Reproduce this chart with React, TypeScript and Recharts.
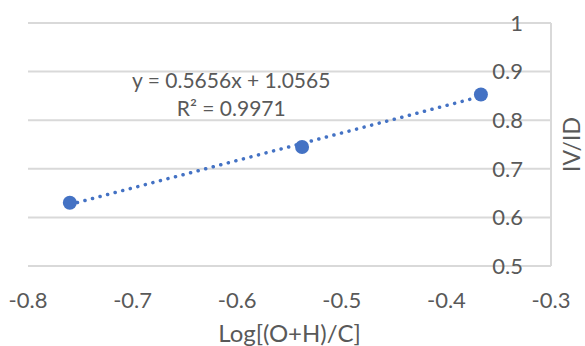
// Scatter of IV/ID against Log[(O+H)/C] with linear trendline
import {
  ScatterChart,
  Scatter,
  XAxis,
  YAxis,
  CartesianGrid,
  ReferenceDot,
} from "recharts";

const logOHC = [-0.76, -0.538, -0.367];
const ivId = [0.63, 0.745, 0.853];

const xTicks = [-0.8, -0.7, -0.6, -0.5, -0.4, -0.3];
const yTicks = [0.5, 0.6, 0.7, 0.8, 0.9, 1];

// trendline as printed on the chart
const trendSlope = 0.5656;
const trendIntercept = 1.0565;
const trendR2 = 0.9971;

const points = logOHC.map((x, i) => ({ x, y: ivId[i] }));
const xMin = Math.min(...logOHC);
const xMax = Math.max(...logOHC);
const trend = [xMin, xMax].map((x) => ({ x, y: trendSlope * x + trendIntercept }));

const FONT = "Lato, 'Open Sans', sans-serif";
const TEXT = "#595959";
const BLUE = "#4472C4";

const fmt = (v: number) => (v === 1 ? "1" : String(v));

function EquationLabel(props: any) {
  const { cx, cy } = props;
  return (
    <g>
      <text x={cx} y={cy} textAnchor="middle" dominantBaseline="central" fill={TEXT} fontSize={21} fontFamily={FONT}>
        {`y = ${trendSlope}x + ${trendIntercept}`}
      </text>
      <text x={cx} y={cy + 28} textAnchor="middle" dominantBaseline="central" fill={TEXT} fontSize={21} fontFamily={FONT}>
        {`R² = ${trendR2}`}
      </text>
    </g>
  );
}

export default function App() {
  return (
    <div style={{ position: "absolute", left: 0, top: 0, width: 585, height: 346, background: "#fff" }}>
      <ScatterChart width={585} height={346} margin={{ top: 23, right: 34, bottom: 0, left: 28 }}>
        <CartesianGrid vertical={false} stroke="#d9d9d9" strokeWidth={2} />
        <XAxis
          type="number"
          dataKey="x"
          domain={[-0.8, -0.3]}
          ticks={xTicks}
          axisLine={false}
          tickLine={false}
          tickMargin={20}
          height={80}
          tick={{ fill: TEXT, fontSize: 22, fontFamily: FONT }}
          tickFormatter={fmt}
          label={{ value: "Log[(O+H)/C]", position: "insideBottom", offset: 4, fill: TEXT, fontSize: 24, fontFamily: FONT }}
          allowDataOverflow
        />
        <YAxis
          type="number"
          dataKey="y"
          orientation="right"
          domain={[0.5, 1]}
          ticks={yTicks}
          width={34}
          mirror
          axisLine={{ stroke: "#d9d9d9", strokeWidth: 2 }}
          tickLine={false}
          tickMargin={22}
          tick={{ fill: TEXT, fontSize: 22, fontFamily: FONT }}
          tickFormatter={fmt}
          label={{ value: "IV/ID", angle: -90, position: "center", dx: 38, fill: TEXT, fontSize: 23, fontFamily: FONT }}
          allowDataOverflow
        />
        <Scatter
          data={trend}
          line={{ stroke: BLUE, strokeWidth: 3.5, strokeDasharray: "0.1 7.7", strokeLinecap: "round" }}
          shape={() => null}
          isAnimationActive={false}
        />
        <Scatter data={points} fill={BLUE} shape={(p: any) => <circle cx={p.cx} cy={p.cy} r={7} fill={BLUE} />} isAnimationActive={false} />
        <ReferenceDot x={-0.6057} y={0.883} r={0} shape={(p: any) => <EquationLabel {...p} />} />
      </ScatterChart>
    </div>
  );
}
